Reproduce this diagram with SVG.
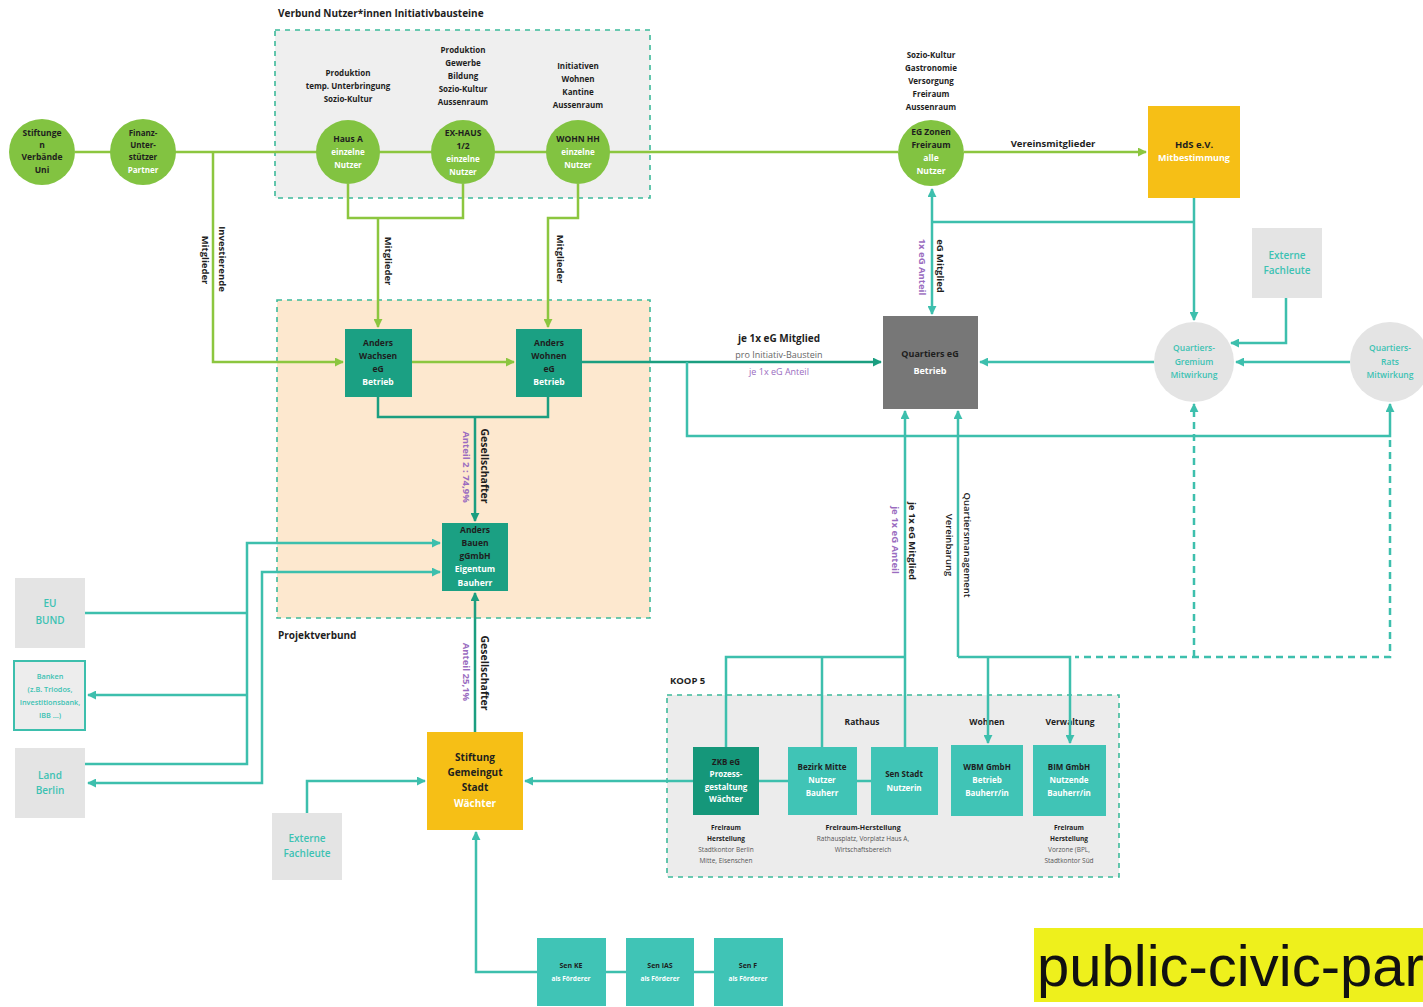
<svg xmlns="http://www.w3.org/2000/svg" width="1423" height="1007" viewBox="0 0 1423 1007">
<style>
.t{font-family:"Open Sans","DejaVu Sans",sans-serif;font-weight:700;text-anchor:middle}
.s75{font-size:7.3px}.s8{font-size:8px}.s85{font-size:8.5px}.s9{font-size:9px}.s95{font-size:9.5px}.s10{font-size:10px}.s7{font-size:7px}.s65{font-size:6.5px}
.b{fill:#1e1e1e}.w{fill:#ffffff}.tl{fill:#3cc2b3;font-weight:600}.pu{fill:#9a6cc0;font-weight:400}.gy{fill:#666;font-weight:400}
.lg{stroke:#8cc63f;stroke-width:2.5;fill:none}
.tq{stroke:#3dbfad;stroke-width:2.5;fill:none}
.dk{stroke:#1b9e80;stroke-width:2.5;fill:none}
.ds{stroke-dasharray:7 5}
.grp{stroke:#3dba9a;stroke-width:1.6;stroke-dasharray:5 5}
.gc{fill:#82c341}
.dn{fill:#1ba083}
.ln{fill:#40c4b6}
.gb{fill:#e4e4e4}
.lab{font-family:"Open Sans","DejaVu Sans",sans-serif;font-weight:700;font-size:9.5px;text-anchor:middle}
</style>
<defs>
<marker id="ag" viewBox="0 0 10 10" refX="9" refY="5" markerWidth="3.6" markerHeight="3.6" orient="auto-start-reverse"><path d="M0,0 L10,5 L0,10 z" fill="#8cc63f"/></marker>
<marker id="at" viewBox="0 0 10 10" refX="9" refY="5" markerWidth="3.6" markerHeight="3.6" orient="auto-start-reverse"><path d="M0,0 L10,5 L0,10 z" fill="#3dbfad"/></marker>
<marker id="ad" viewBox="0 0 10 10" refX="9" refY="5" markerWidth="3.6" markerHeight="3.6" orient="auto-start-reverse"><path d="M0,0 L10,5 L0,10 z" fill="#1b9e80"/></marker>
</defs>
<rect width="1423" height="1007" fill="#ffffff"/>

<g id="group-verbund">
<rect x="275" y="30" width="375" height="168" fill="#efefef" class="grp"/>
<text class="t s10 b" x="278" y="17" style="text-anchor:start">Verbund Nutzer*innen Initiativbausteine</text>
</g>
<g id="group-projektverbund">
<rect x="277" y="300" width="373" height="318" fill="#fde8cf" class="grp"/>
<text class="t s10 b" x="278" y="639" style="text-anchor:start">Projektverbund</text>
</g>
<g id="group-koop5">
<rect x="667" y="695" width="452" height="182" fill="#ececec" class="grp"/>
<text class="t s95 b" x="670" y="684" style="text-anchor:start">KOOP 5</text>
<text class="t s85 b" x="862" y="725">Rathaus</text>
<text class="t s85 b" x="987" y="725">Wohnen</text>
<text class="t s85 b" x="1070" y="725">Verwaltung</text>
</g>

<g id="connectors">
<path class="lg" d="M75,152 H898"/>
<path class="lg" d="M964,152 H1146" marker-end="url(#ag)"/>
<path class="lg" d="M213,152 V362 H343" marker-end="url(#ag)"/>
<path class="lg" d="M348,184 V218 H463 V184"/>
<path class="lg" d="M378,218 V327" marker-end="url(#ag)"/>
<path class="lg" d="M578,184 V218 H548 V327" marker-end="url(#ag)"/>
<path class="lg" d="M412,362 H514" marker-end="url(#ag)"/>
<path class="dk" d="M582,362 H881" marker-end="url(#ad)"/>
<path class="dk" d="M378,397 V417 H548 V397"/>
<path class="dk" d="M475,417 V521" marker-end="url(#ad)"/>
<path class="dk" d="M475,732 V593" marker-end="url(#ad)"/>
<path class="tq" d="M687,362 V436 H1390 V404" marker-end="url(#at)"/>
<path class="tq" d="M932,189 V314" marker-start="url(#at)" marker-end="url(#at)"/>
<path class="tq" d="M932,222 H1194"/>
<path class="tq" d="M1194,198 V320" marker-end="url(#at)"/>
<path class="tq" d="M1286,298 V343 H1231" marker-end="url(#at)"/>
<path class="tq" d="M1350,362 H1236" marker-end="url(#at)"/>
<path class="tq" d="M1154,362 H980" marker-end="url(#at)"/>
<path class="tq ds" d="M1194,657 V404" marker-end="url(#at)"/>
<path class="tq ds" d="M1390,440 V657 H1075"/>
<path class="tq" d="M726,747 V657 H905"/>
<path class="tq" d="M822,747 V657"/>
<path class="tq" d="M905,747 V411" marker-end="url(#at)"/>
<path class="tq" d="M958,657 V411" marker-end="url(#at)"/>
<path class="tq" d="M958,657 H1070 V743" marker-end="url(#at)"/>
<path class="tq" d="M988,657 V743" marker-end="url(#at)"/>
<path class="tq" d="M693,781 H525" marker-end="url(#at)"/>
<path class="tq" d="M759,781 H788 M857,781 H871"/>
<path class="tq" d="M85,613 H247"/>
<path class="tq" d="M85,764 H247 V543 H440" marker-end="url(#at)"/>
<path class="tq" d="M247,695 H88" marker-end="url(#at)"/>
<path class="tq" d="M88,783 H262 V572 H440" marker-start="url(#at)" marker-end="url(#at)"/>
<path class="tq" d="M537,972 H476 V832" marker-end="url(#at)"/>
<path class="tq" d="M606,972 H626 M694,972 H714"/>
<path class="tq" d="M307,813 V781 H425" marker-end="url(#at)"/>
<text class="lab b" x="1053" y="147">Vereinsmitglieder</text>
<text class="lab b" x="779" y="342" style="font-size:10px">je 1x eG Mitglied</text>
<text class="t s9 gy" x="779" y="358">pro Initiativ-Baustein</text>
<text class="t s9 pu" x="779" y="375">je 1x eG Anteil</text>
<text class="lab b" transform="translate(219,259) rotate(90)">Investierende</text>
<text class="lab b" transform="translate(202,260) rotate(90)">Mitglieder</text>
<text class="lab b" transform="translate(385,261) rotate(90)">Mitglieder</text>
<text class="lab b" transform="translate(557,259) rotate(90)">Mitglieder</text>
<text class="lab b" transform="translate(481,466) rotate(90)" style="font-size:10.5px">Gesellschafter</text>
<text class="lab pu" transform="translate(463,467) rotate(90)">Anteil 2 : 74,9%</text>
<text class="lab b" transform="translate(481,673) rotate(90)" style="font-size:10.5px">Gesellschafter</text>
<text class="lab pu" transform="translate(463,672) rotate(90)">Anteil 25,1%</text>
<text class="lab b" transform="translate(937,266) rotate(90)">eG Mitglied</text>
<text class="lab pu" transform="translate(919,267) rotate(90)">1x eG Anteil</text>
<text class="lab b" transform="translate(909,541) rotate(90)">je 1x eG Mitglied</text>
<text class="lab pu" transform="translate(892,540) rotate(90)">je 1x eG Anteil</text>
<text class="lab b" transform="translate(964,545) rotate(90)" style="font-weight:600">Quartiersmanagement</text>
<text class="lab b" transform="translate(946,545) rotate(90)" style="font-weight:600">Vereinbarung</text>
</g>

<g id="node-stiftungen">
<circle cx="42" cy="152" r="33" class="gc"/>
<text class="t s85 b" x="42" y="136">Stiftunge</text>
<text class="t s85 b" x="42" y="148">n</text>
<text class="t s85 b" x="42" y="160">Verbände</text>
<text class="t s85 b" x="42" y="173">Uni</text>
</g>
<g id="node-finanz">
<circle cx="143" cy="152" r="33" class="gc"/>
<text class="t s8 b" x="143" y="136">Finanz-</text>
<text class="t s8 b" x="143" y="148">Unter-</text>
<text class="t s8 b" x="143" y="160">stützer</text>
<text class="t s8 w" x="143" y="173">Partner</text>
</g>
<g id="node-hausa">
<text class="t s8 b" x="348" y="76">Produktion</text>
<text class="t s8 b" x="348" y="89">temp. Unterbringung</text>
<text class="t s8 b" x="348" y="102">Sozio-Kultur</text>
<circle cx="348" cy="152" r="32" class="gc"/>
<text class="t s85 b" x="348" y="142">Haus A</text>
<text class="t s8 w" x="348" y="155">einzelne</text>
<text class="t s8 w" x="348" y="168">Nutzer</text>
</g>
<g id="node-exhaus">
<text class="t s8 b" x="463" y="53">Produktion</text>
<text class="t s8 b" x="463" y="66">Gewerbe</text>
<text class="t s8 b" x="463" y="79">Bildung</text>
<text class="t s8 b" x="463" y="92">Sozio-Kultur</text>
<text class="t s8 b" x="463" y="105">Aussenraum</text>
<circle cx="463" cy="152" r="32" class="gc"/>
<text class="t s85 b" x="463" y="136">EX-HAUS</text>
<text class="t s85 b" x="463" y="149">1/2</text>
<text class="t s8 w" x="463" y="162">einzelne</text>
<text class="t s8 w" x="463" y="175">Nutzer</text>
</g>
<g id="node-wohn">
<text class="t s8 b" x="578" y="69">Initiativen</text>
<text class="t s8 b" x="578" y="82">Wohnen</text>
<text class="t s8 b" x="578" y="95">Kantine</text>
<text class="t s8 b" x="578" y="108">Aussenraum</text>
<circle cx="578" cy="152" r="32" class="gc"/>
<text class="t s85 b" x="578" y="142">WOHN HH</text>
<text class="t s8 w" x="578" y="155">einzelne</text>
<text class="t s8 w" x="578" y="168">Nutzer</text>
</g>
<g id="node-egzonen">
<text class="t s8 b" x="931" y="58">Sozio-Kultur</text>
<text class="t s8 b" x="931" y="71">Gastronomie</text>
<text class="t s8 b" x="931" y="84">Versorgung</text>
<text class="t s8 b" x="931" y="97">Freiraum</text>
<text class="t s8 b" x="931" y="110">Aussenraum</text>
<circle cx="931" cy="153" r="33" class="gc"/>
<text class="t s85 b" x="931" y="135">EG Zonen</text>
<text class="t s85 b" x="931" y="148">Freiraum</text>
<text class="t s85 w" x="931" y="161">alle</text>
<text class="t s85 w" x="931" y="174">Nutzer</text>
</g>
<g id="node-hds">
<rect x="1148" y="106" width="92" height="92" fill="#f6bf16"/>
<text class="t s95 b" x="1194" y="148">HdS e.V.</text>
<text class="t s9 w" x="1194" y="161">Mitbestimmung</text>
</g>
<g id="node-externe-top">
<rect x="1252" y="228" width="70" height="70" class="gb"/>
<text class="t s10 tl" x="1287" y="259">Externe</text>
<text class="t s10 tl" x="1287" y="274">Fachleute</text>
</g>
<g id="node-gremium">
<circle cx="1194" cy="362" r="40" class="gb"/>
<text class="t s85 tl" x="1194" y="351">Quartiers-</text>
<text class="t s85 tl" x="1194" y="365">Gremium</text>
<text class="t s85 tl" x="1194" y="378">Mitwirkung</text>
</g>
<g id="node-rat">
<circle cx="1390" cy="362" r="40" class="gb"/>
<text class="t s85 tl" x="1390" y="351">Quartiers-</text>
<text class="t s85 tl" x="1390" y="365">Rats</text>
<text class="t s85 tl" x="1390" y="378">Mitwirkung</text>
</g>
<g id="node-quartiers-eg">
<rect x="883" y="316" width="95" height="93" fill="#777777"/>
<text class="t s9 b" x="930" y="357">Quartiers eG</text>
<text class="t s9 w" x="930" y="374">Betrieb</text>
</g>
<g id="node-anders-wachsen">
<rect x="345" y="329" width="67" height="68" class="dn"/>
<text class="t s85 b" x="378" y="346">Anders</text>
<text class="t s85 b" x="378" y="359">Wachsen</text>
<text class="t s85 b" x="378" y="372">eG</text>
<text class="t s85 w" x="378" y="385">Betrieb</text>
</g>
<g id="node-anders-wohnen">
<rect x="516" y="329" width="66" height="68" class="dn"/>
<text class="t s85 b" x="549" y="346">Anders</text>
<text class="t s85 b" x="549" y="359">Wohnen</text>
<text class="t s85 b" x="549" y="372">eG</text>
<text class="t s85 w" x="549" y="385">Betrieb</text>
</g>
<g id="node-anders-bauen">
<rect x="442" y="523" width="66" height="68" class="dn"/>
<text class="t s85 b" x="475" y="533">Anders</text>
<text class="t s85 b" x="475" y="546">Bauen</text>
<text class="t s85 b" x="475" y="559">gGmbH</text>
<text class="t s85 w" x="475" y="572">Eigentum</text>
<text class="t s85 w" x="475" y="586">Bauherr</text>
</g>
<g id="node-eu-bund">
<rect x="15" y="578" width="70" height="70" class="gb"/>
<text class="t s10 tl" x="50" y="607">EU</text>
<text class="t s10 tl" x="50" y="624">BUND</text>
</g>
<g id="node-banken">
<rect x="14" y="661" width="71" height="69" fill="#ededed" stroke="#3dbfad" stroke-width="2"/>
<text class="t s75 tl" x="50" y="679">Banken</text>
<text class="t s75 tl" x="50" y="692">(z.B. Triodos,</text>
<text class="t s75 tl" x="50" y="705">Investitionsbank,</text>
<text class="t s75 tl" x="50" y="718">IBB ...)</text>
</g>
<g id="node-land-berlin">
<rect x="15" y="748" width="70" height="70" class="gb"/>
<text class="t s10 tl" x="50" y="779">Land</text>
<text class="t s10 tl" x="50" y="794">Berlin</text>
</g>
<g id="node-externe-bottom">
<rect x="272" y="813" width="70" height="67" class="gb"/>
<text class="t s10 tl" x="307" y="842">Externe</text>
<text class="t s10 tl" x="307" y="857">Fachleute</text>
</g>
<g id="node-stiftung-gemeingut">
<rect x="427" y="732" width="96" height="98" fill="#f6bf16"/>
<text class="t s10 b" x="475" y="761">Stiftung</text>
<text class="t s10 b" x="475" y="776">Gemeingut</text>
<text class="t s10 b" x="475" y="791">Stadt</text>
<text class="t s10 w" x="475" y="807">Wächter</text>
</g>
<g id="node-zkb">
<rect x="693" y="747" width="66" height="68" fill="#15977a"/>
<text class="t s8 b" x="726" y="765">ZKB eG</text>
<text class="t s8 w" x="726" y="777">Prozess-</text>
<text class="t s8 w" x="726" y="790">gestaltung</text>
<text class="t s8 w" x="726" y="802">Wächter</text>
<text class="t s65 b" x="726" y="830">Freiraum</text>
<text class="t s65 b" x="726" y="841">Herstellung</text>
<text class="t s65 gy" x="726" y="852" style="fill:#555">Stadtkontor Berlin</text>
<text class="t s65 gy" x="726" y="863" style="fill:#555">Mitte, Eisenschen</text>
</g>
<g id="node-bezirk">
<rect x="788" y="747" width="69" height="68" class="ln"/>
<text class="t s8 b" x="822" y="770">Bezirk Mitte</text>
<text class="t s8 w" x="822" y="783">Nutzer</text>
<text class="t s8 w" x="822" y="796">Bauherr</text>
</g>
<g id="node-senstadt">
<rect x="871" y="747" width="67" height="68" class="ln"/>
<text class="t s8 b" x="904" y="777">Sen Stadt</text>
<text class="t s8 w" x="904" y="791">Nutzerin</text>
</g>
<g id="label-freiraum-mitte">
<text class="t s7 b" x="863" y="830">Freiraum-Herstellung</text>
<text class="t s65 gy" x="863" y="841" style="fill:#555">Rathausplatz, Vorplatz Haus A,</text>
<text class="t s65 gy" x="863" y="852" style="fill:#555">Wirtschaftsbereich</text>
</g>
<g id="node-wbm">
<rect x="951" y="745" width="72" height="71" class="ln"/>
<text class="t s8 b" x="987" y="770">WBM GmbH</text>
<text class="t s8 w" x="987" y="783">Betrieb</text>
<text class="t s8 w" x="987" y="796">Bauherr/in</text>
</g>
<g id="node-bim">
<rect x="1033" y="745" width="73" height="71" class="ln"/>
<text class="t s8 b" x="1069" y="770">BIM GmbH</text>
<text class="t s8 w" x="1069" y="783">Nutzende</text>
<text class="t s8 w" x="1069" y="796">Bauherr/in</text>
<text class="t s65 b" x="1069" y="830">Freiraum</text>
<text class="t s65 b" x="1069" y="841">Herstellung</text>
<text class="t s65 gy" x="1069" y="852" style="fill:#555">Vorzone (BPL,</text>
<text class="t s65 gy" x="1069" y="863" style="fill:#555">Stadtkontor Süd</text>
</g>
<g id="node-sen-ke">
<rect x="537" y="938" width="69" height="68" class="ln"/>
<text class="t s7 b" x="571" y="968">Sen KE</text>
<text class="t s65 w" x="571" y="981">als Förderer</text>
</g>
<g id="node-sen-ias">
<rect x="626" y="938" width="68" height="68" class="ln"/>
<text class="t s7 b" x="660" y="968">Sen IAS</text>
<text class="t s65 w" x="660" y="981">als Förderer</text>
</g>
<g id="node-sen-f">
<rect x="714" y="938" width="69" height="68" class="ln"/>
<text class="t s7 b" x="748" y="968">Sen F</text>
<text class="t s65 w" x="748" y="981">als Förderer</text>
</g>
<g id="caption">
<rect x="1034" y="928" width="389" height="74" fill="#eef01c"/>
<text x="1037" y="986" font-family="Liberation Sans, Arial, sans-serif" font-size="58" fill="#111">public-civic-par</text>
</g>
</svg>
